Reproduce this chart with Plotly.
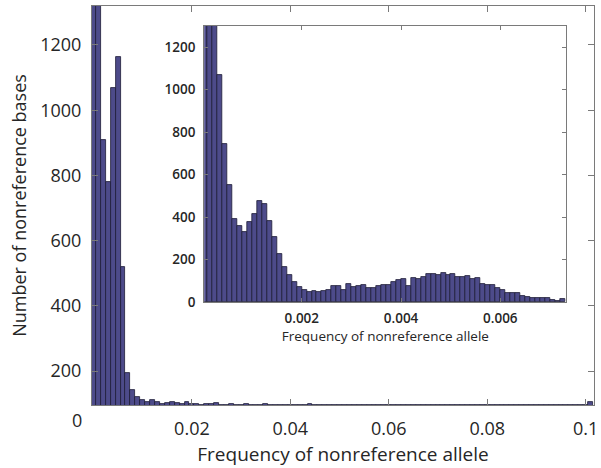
import numpy as np
import plotly.graph_objects as go

# ---- main histogram: bins 0.001 wide, centred on multiples of 0.001 ----
main_bin_width = 0.001
main_counts = [
    2000, 1600, 908, 780, 1068, 1163, 519, 195, 142, 121,
    111, 106, 111, 106, 100, 102, 106, 103, 100, 105,
    99, 98, 97, 99, 100, 101, 97, 97, 99, 97,
    97, 99, 97, 97, 97, 99, 97, 97, 97, 97,
    97, 97, 97, 97, 99, 96, 96, 96, 96, 96,
    96, 96, 96, 96, 96, 96, 96, 96, 96, 96,
    96, 96, 96, 96, 96, 96, 96, 96, 96, 96,
    96, 96, 96, 96, 96, 96, 96, 96, 96, 96,
    96, 96, 96, 96, 96, 96, 96, 96, 96, 96,
    96, 96, 96, 96, 96, 96, 96, 96, 96, 96,
    96, 106,
]
main_centers = np.arange(len(main_counts)) * main_bin_width
main_xticks = [0.02, 0.04, 0.06, 0.08, 0.1]
main_xticktext = ["0.02", "0.04", "0.06", "0.08", "0.1"]
main_yticks = [200, 400, 600, 800, 1000, 1200]

# ---- inset histogram: bins 0.0001 wide, left edges at multiples of 0.0001 ----
inset_bin_width = 0.0001
inset_counts = [
    1500, 1450, 1380, 1068, 744, 551, 389, 358, 331, 375,
    414, 475, 464, 383, 304, 224, 166, 127, 96, 69,
    56, 48, 53, 48, 53, 56, 75, 75, 56, 83,
    72, 77, 80, 64, 64, 75, 80, 80, 96, 104,
    107, 75, 111, 108, 119, 130, 130, 127, 135, 125,
    132, 120, 120, 122, 107, 111, 85, 80, 78, 66,
    58, 42, 41, 41, 27, 25, 20, 17, 17, 17,
    8, 5, 12,
]
inset_centers = (np.arange(len(inset_counts)) + 0.5) * inset_bin_width
inset_xticks = [0.002, 0.004, 0.006]
inset_xticktext = ["0.002", "0.004", "0.006"]
inset_yticks = [0, 200, 400, 600, 800, 1000, 1200]

BAR_FILL = "#4d4b8a"
BAR_EDGE = "#1d1c36"
AXIS_COLOR = "#7a7a7a"
TEXT_COLOR = "#262626"
FONT = "Open Sans"

fig = go.Figure()

fig.add_trace(go.Bar(
    x=main_centers, y=main_counts, width=main_bin_width,
    marker=dict(color=BAR_FILL, line=dict(color=BAR_EDGE, width=0.8)),
    xaxis="x", yaxis="y", showlegend=False, hoverinfo="x+y",
))

fig.add_trace(go.Bar(
    x=inset_centers, y=inset_counts, width=inset_bin_width,
    marker=dict(color=BAR_FILL, line=dict(color=BAR_EDGE, width=0.8)),
    xaxis="x2", yaxis="y2", showlegend=False, hoverinfo="x+y",
))

axis_common = dict(
    showline=True, linecolor=AXIS_COLOR, linewidth=1, mirror="ticks",
    ticks="inside", tickcolor=AXIS_COLOR, showgrid=False, zeroline=False,
    ticklabeloverflow="allow",
)

fig.update_layout(
    width=601, height=468,
    margin=dict(l=92, r=3, t=6, b=63),
    paper_bgcolor="white", plot_bgcolor="white",
    bargap=0,
    font=dict(family=FONT, color=TEXT_COLOR),
    xaxis=dict(
        **axis_common, domain=[0, 1], range=[-0.0003, 0.1017],
        tickvals=main_xticks, ticktext=main_xticktext, ticklen=6,
        tickfont=dict(size=18), ticklabelstandoff=7,
        title=dict(text="Frequency of nonreference allele",
                   font=dict(size=19), standoff=9),
    ),
    yaxis=dict(
        **axis_common, domain=[0, 1], range=[95.7, 1319.6],
        tickvals=main_yticks, ticklen=6,
        tickfont=dict(size=18), ticklabelstandoff=6,
        title=dict(text="Number of nonreference bases",
                   font=dict(size=18), standoff=8),
    ),
    xaxis2=dict(
        **axis_common, domain=[0.2235, 0.9452], anchor="y2",
        range=[0.000034, 0.007334],
        tickvals=inset_xticks, ticktext=inset_xticktext, ticklen=4,
        tickfont=dict(size=13.5, weight=600), ticklabelstandoff=4,
        title=dict(text="Frequency of nonreference allele",
                   font=dict(size=13.5), standoff=4),
    ),
    yaxis2=dict(
        **axis_common, domain=[0.2581, 0.9499], anchor="x2",
        range=[0, 1300],
        tickvals=inset_yticks, ticklen=4,
        tickfont=dict(size=13.5, weight=600), ticklabelstandoff=5,
    ),
    annotations=[dict(
        text="0", xref="paper", yref="paper", x=-0.016, y=-0.038,
        xanchor="right", yanchor="middle", showarrow=False,
        font=dict(size=18, family=FONT, color=TEXT_COLOR),
    )],
)

fig.write_html("out.html")
